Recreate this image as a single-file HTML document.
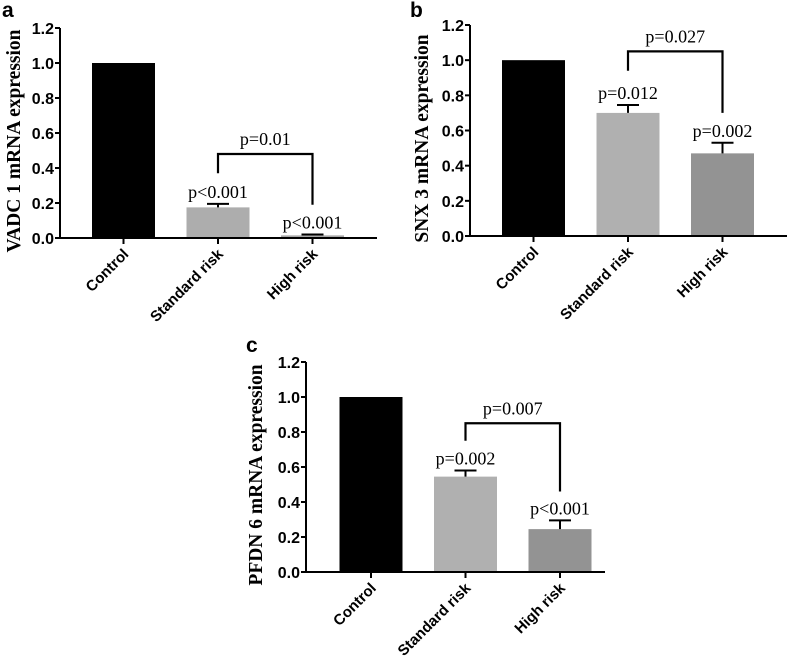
<!DOCTYPE html>
<html><head><meta charset="utf-8"><style>
html,body{margin:0;padding:0;background:#fff;}
svg{display:block;}
.tick{font:bold 16px "Liberation Sans",sans-serif;fill:#000;}
.cat{font:bold 15px "Liberation Sans",sans-serif;fill:#000;}
.yt{font:bold 19.5px "Liberation Serif",serif;fill:#000;}
.pl{font:18px "Liberation Serif",serif;fill:#000;}
.panel{font:bold 21px "Liberation Sans",sans-serif;fill:#000;}
</style></head><body>
<svg id="chart" width="787" height="662" viewBox="0 0 787 662"></svg>
<script>
const categories = ["Control","Standard risk","High risk"];
const yTicks = [0.0,0.2,0.4,0.6,0.8,1.0,1.2];
const yTickLabels = ["0.0","0.2","0.4","0.6","0.8","1.0","1.2"];
const valuesA = [1.0,0.175,0.015];
const errorsA = [0,0.195,0.02];
const pLabelsA = ["","p<0.001","p<0.001"];
const bracketA = [0.48,0.37,0.19];
const bracketLabelA = "p=0.01";
const valuesB = [1.0,0.70,0.47];
const errorsB = [0,0.745,0.53];
const pLabelsB = ["","p=0.012","p=0.002"];
const bracketB = [1.05,0.94,0.70];
const bracketLabelB = "p=0.027";
const valuesC = [1.0,0.545,0.245];
const errorsC = [0,0.58,0.295];
const pLabelsC = ["","p=0.002","p<0.001"];
const bracketC = [0.85,0.75,0.46];
const bracketLabelC = "p=0.007";
const colorsA = ["#000","#adadad","#a8a8a8"];
const colorsB = ["#000","#b0b0b0","#939393"];

const NS="http://www.w3.org/2000/svg";
const svg=document.getElementById('chart');
function mk(tag,attrs,parent,text){const e=document.createElementNS(NS,tag);for(const k in attrs)e.setAttribute(k,attrs[k]);if(text!==undefined)e.textContent=text;(parent||svg).appendChild(e);return e;}

function panel(o){
  const g=mk('g',{});
  
  
  const y=v=>o.y0+(o.y12-o.y0)*v/1.2;
  const xc=i=>o.x0+o.first+i*o.step;
  const pl=mk('text',{x:o.px,y:o.py,class:'panel'},g,o.id);
  
  
  o.vals.forEach((v,i)=>{
    const r=mk('rect',{x:xc(i)-o.bw/2,y:y(v),width:o.bw,height:o.y0-y(v),fill:o.colors[i]},g);
    
    
    if(o.errs[i]>v){
      const e=mk('path',{d:`M${xc(i)} ${y(v)}V${y(o.errs[i])}M${xc(i)-11} ${y(o.errs[i])}H${xc(i)+11}`,stroke:'#000','stroke-width':2,fill:'none'},g);
      
      
    }
    if(o.pl[i]){
      const t=mk('text',{x:xc(i),y:y(o.errs[i])-6,'text-anchor':'middle',class:'pl'},g,o.pl[i]);
      
      
    }
  });
  const ax=mk('path',{d:`M${o.x0} ${y(1.2)}V${o.y0}H${o.xend}`,stroke:'#000','stroke-width':2,fill:'none'},g);
  
  
  yTicks.forEach((t,i)=>{
    mk('line',{x1:o.x0-5,x2:o.x0,y1:y(t),y2:y(t),stroke:'#000','stroke-width':2},g);
    const l=mk('text',{x:o.x0-6,y:y(t)+6,'text-anchor':'end',class:'tick'},g,yTickLabels[i]);
    
    
  });
  categories.forEach((c,i)=>{
    mk('line',{x1:xc(i),x2:xc(i),y1:o.y0,y2:o.y0+6,stroke:'#000','stroke-width':2},g);
    const l=mk('text',{x:0,y:0,'text-anchor':'end',class:'cat',transform:`translate(${xc(i)+6},${o.y0+17}) rotate(-45)`},g,c);
    
    
  });
  const yt=mk('text',{x:0,y:0,'text-anchor':'middle',class:'yt',transform:`translate(${o.ytx},${(y(1.2)+o.y0)/2+8}) rotate(-90)`},g,o.title);
  
  
  const b=o.br;
  const bp=mk('path',{d:`M${xc(1)} ${y(b[1])}V${y(b[0])}H${xc(2)}V${y(b[2])}`,stroke:'#000','stroke-width':2.2,fill:'none'},g);
  
  
  const bl=mk('text',{x:(xc(1)+xc(2))/2,y:y(b[0])-9,'text-anchor':'middle',class:'pl'},g,o.brl);
  
  
}
panel({id:'a',x0:60,y0:238,y12:28,first:63.5,step:94.5,bw:63,xend:377,vals:valuesA,errs:errorsA,pl:pLabelsA,br:bracketA,brl:bracketLabelA,colors:colorsA,title:'VADC 1 mRNA expression',ytx:20,px:2,py:17});
panel({id:'b',x0:470,y0:236,y12:25,first:63.5,step:94.5,bw:63,xend:787,vals:valuesB,errs:errorsB,pl:pLabelsB,br:bracketB,brl:bracketLabelB,colors:colorsB,title:'SNX 3 mRNA expression',ytx:428,px:410,py:17});
panel({id:'c',x0:306,y0:572,y12:362,first:65,step:94.5,bw:63,xend:605,vals:valuesC,errs:errorsC,pl:pLabelsC,br:bracketC,brl:bracketLabelC,colors:colorsB,title:'PFDN 6 mRNA expression',ytx:262,px:246,py:352});
</script>
</body></html>
